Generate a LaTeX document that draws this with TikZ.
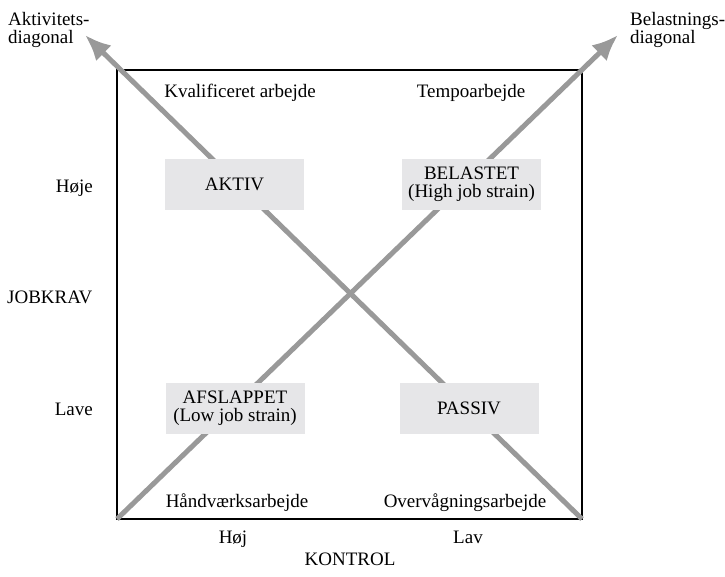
\documentclass[tikz,border=0pt]{standalone}
\usepackage{fontspec}
\setmainfont{Liberation Serif}
\usetikzlibrary{arrows.meta}
\definecolor{diaggray}{RGB}{153,153,153}
\definecolor{boxgray}{RGB}{230,230,232}

\begin{document}
\begin{tikzpicture}[
    x=1pt, y=-1pt,
    every node/.style={font=\fontsize{19}{18}\selectfont},
    quad/.style={rectangle, fill=boxgray, minimum width=139pt, minimum height=51pt, align=center, inner sep=2pt},
    diag/.style={-{Latex[length=26pt, width=22pt]}, draw=diaggray, line width=5pt},
    lbl/.style={inner sep=0pt, anchor=base},
    axis/.style={inner sep=0pt, align=left, anchor=north west}
]
\useasboundingbox (0,0) rectangle (725,576);

% Frame
\node[draw=black, line width=2.2pt, minimum width=465pt, minimum height=449pt, inner sep=0pt, outer sep=0pt] (frame) at (349.5,294.5) {};

% Diagonals
\coordinate (tipakt) at (85,35);
\coordinate (tipbel) at (618,35);
\draw[diag] (frame.south east) -- (tipakt);
\draw[diag] (frame.south west) -- (tipbel);
\node[axis] (aktdiag) at (8,12) {Aktivitets-\\diagonal};
\node[axis] (beldiag) at (630,12) {Belastnings-\\diagonal};

% Quadrants
\node[quad] (aktiv) at (234.5,184) {AKTIV};
\node[quad] (belastet) at (471.5,184) {BELASTET\\(High job strain)};
\node[quad] (afslappet) at (235,408.5) {AFSLAPPET\\(Low job strain)};
\node[quad] (passiv) at (469,408.5) {PASSIV};

% Job types
\node[lbl] (kval) at (240,97) {Kvalificeret arbejde};
\node[lbl] (tempo) at (471,97) {Tempoarbejde};
\node[lbl] (haand) at (237,507) {Håndværksarbejde};
\node[lbl] (overv) at (465,507) {Overvågningsarbejde};

% JOBKRAV axis
\node[lbl, anchor=base east] (hoeje) at (93,192) {Høje};
\node[lbl, anchor=base west] (jobkrav) at (7,303) {JOBKRAV};
\node[lbl, anchor=base east] (lave) at (93,415) {Lave};

% KONTROL axis
\node[lbl] (hoej) at (233,543) {Høj};
\node[lbl] (lav) at (468,543) {Lav};
\node[lbl] (kontrol) at (350,565) {KONTROL};

\end{tikzpicture}
\end{document}
